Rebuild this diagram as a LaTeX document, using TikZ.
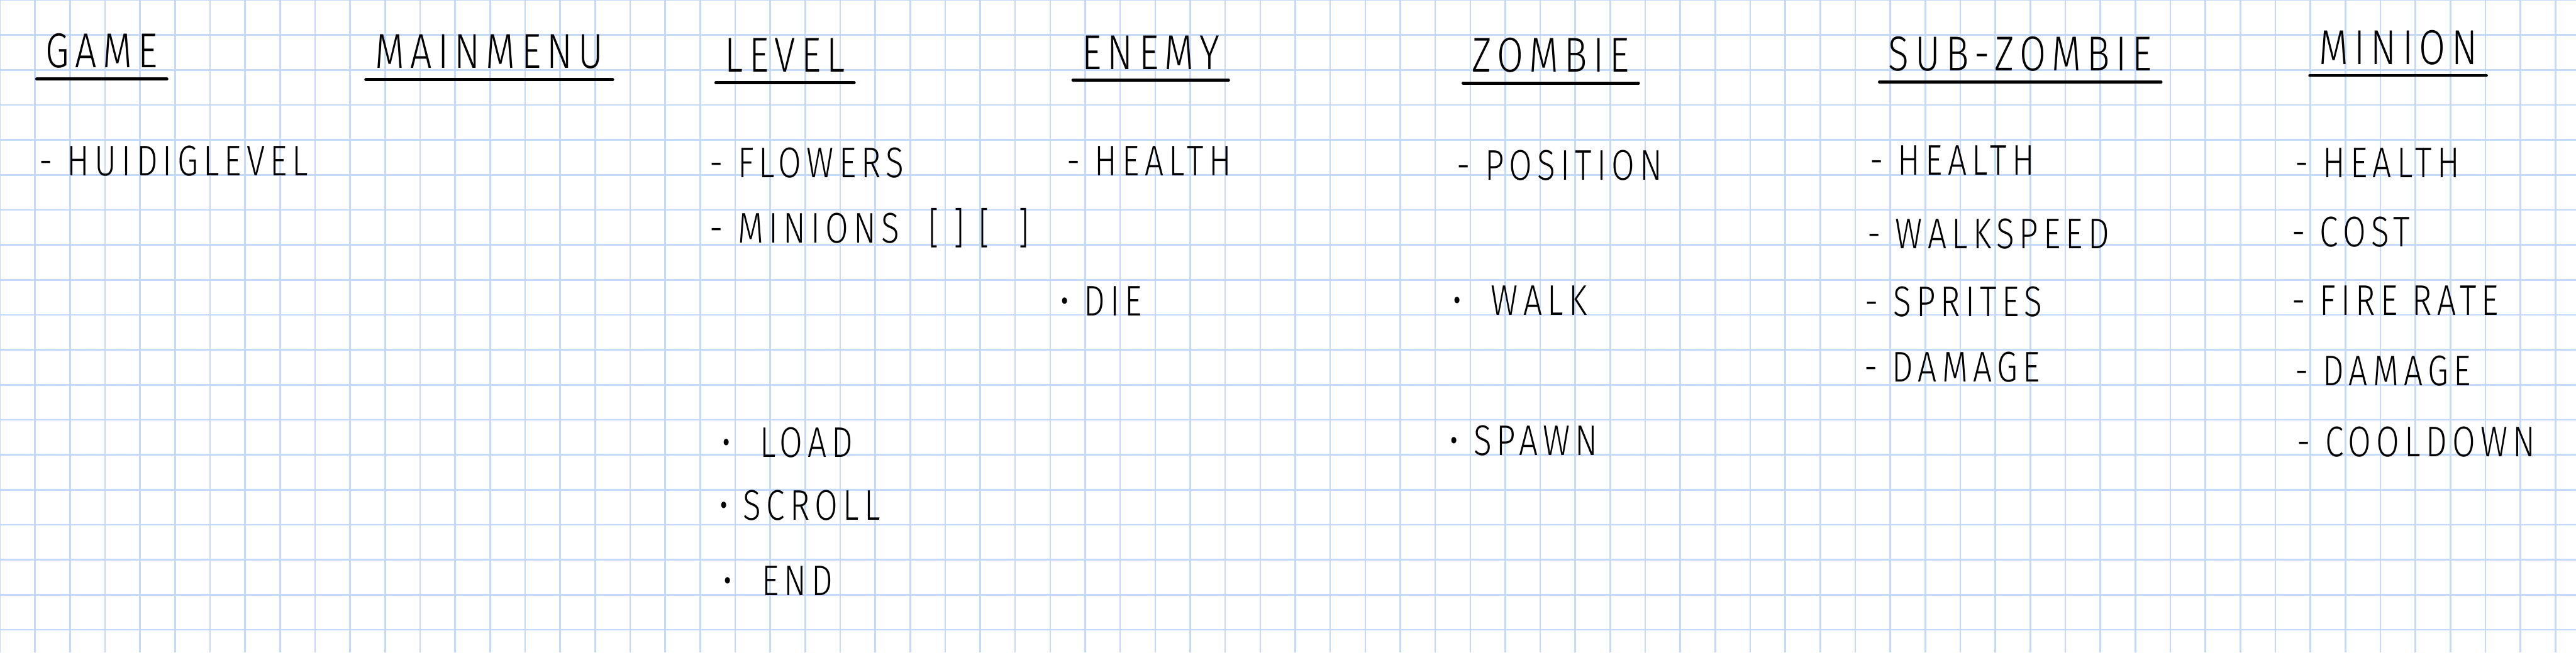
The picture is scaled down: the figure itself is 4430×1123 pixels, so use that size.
\documentclass[tikz,border=0pt]{standalone}
\usepackage{fontspec}
\setmainfont{Fira Sans}[UprightFont=* Light, FakeStretch=0.78, LetterSpace=12]
\usepackage{tikz}
\definecolor{rasterblauw}{RGB}{196,218,252}
\tikzset{
    titel/.style={anchor=south west, inner xsep=0.15cm, inner ysep=0.18cm, font=\fontsize{24}{28}\selectfont},
    punt/.style={anchor=base west, inner sep=0pt, font=\fontsize{21}{25}\selectfont},
    streep/.style={line width=1.4pt, line cap=round}
}

\begin{document}
\begin{tikzpicture}[
            x=0.01cm, y=-0.01cm,
            % Ruitjespapier
            raster/.style={draw=rasterblauw, line width=0.8pt}
        ]

            % 0. Papier en ruitjes
            \fill[white] (0,0) rectangle (4430,1123);
            \useasboundingbox (0,0) rectangle (4430,1123);
            \foreach \k in {0,...,73} \draw[raster] (\k*60.2,0) -- (\k*60.2,1123);
            \foreach \k in {0,...,18} \draw[raster] (0,\k*60.2) -- (4430,\k*60.2);

            % 1. Klassen (titels)
            \node[titel] (game) at (63,136) {GAME};
            \node[titel] (mainmenu) at (629,137) {MAINMENU};
            \node[titel] (level) at (1231,142) {LEVEL};
            \node[titel] (enemy) at (1845,138) {ENEMY};
            \node[titel] (zombie) at (2516,143) {ZOMBIE};
            \node[titel] (subzombie) at (3232,141) {SUB-ZOMBIE};
            \node[titel] (minion) at (3972,130) {MINION};

            % 2. Velden en methodes
            \node[punt] (huidig) at (67,302) {- HUIDIGLEVEL};

            \node[punt] (flowers) at (1220,305) {- FLOWERS};
            \node[punt] (minions) at (1220,418) {- MINIONS\ \ [\ ]\ [\ \ ]};
            \node[punt] (load) at (1240,787) {\textbullet\ \ LOAD};
            \node[punt] (scroll) at (1236,895) {\textbullet\ SCROLL};
            \node[punt] (end) at (1243,1025) {\textbullet\ \ END};

            \node[punt] (enhealth) at (1834,302) {- HEALTH};
            \node[punt] (die) at (1822,543) {\textbullet\ DIE};

            \node[punt] (position) at (2505,310) {- POSITION};
            \node[punt] (walk) at (2497,542) {\textbullet\ \ WALK};
            \node[punt] (spawn) at (2492,784) {\textbullet\ SPAWN};

            \node[punt] (szhealth) at (3215,301) {- HEALTH};
            \node[punt] (walkspeed) at (3211,428) {- WALKSPEED};
            \node[punt] (sprites) at (3207,545) {- SPRITES};
            \node[punt] (szdamage) at (3205,657) {- DAMAGE};

            \node[punt] (mihealth) at (3946,305) {- HEALTH};
            \node[punt] (cost) at (3941,425) {- COST};
            \node[punt] (firerate) at (3941,542) {- FIRE RATE};
            \node[punt] (midamage) at (3946,663) {- DAMAGE};
            \node[punt] (cooldown) at (3950,786) {- COOLDOWN};

            % --- ONDERSTREPING ---
            \foreach \t in {game, mainmenu, level, enemy, zombie, subzombie, minion}
                \draw[streep] (\t.south west) -- (\t.south east);

        \end{tikzpicture}
\end{document}
